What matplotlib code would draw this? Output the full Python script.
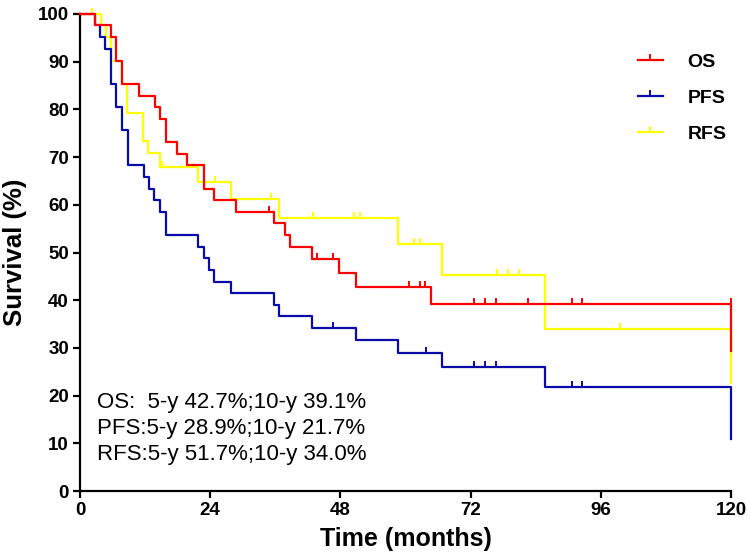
import numpy as np
import matplotlib
matplotlib.use('Agg')
import matplotlib.pyplot as plt
from matplotlib.lines import Line2D

plt.rcParams['font.family'] = ['Liberation Sans', 'DejaVu Sans']

# Kaplan-Meier steps: event time (months) and survival (%) after the drop
os_times = [2.8, 5.8, 6.6, 7.7, 10.8, 13.8, 14.8, 15.8, 17.8, 19.8, 22.8, 24.7, 28.7,
            35.7, 37.7, 38.7, 42.7, 47.7, 50.8, 64.7, 120]
os_surv = [97.6, 95.1, 90.2, 85.4, 82.9, 80.5, 78.0, 73.2, 70.7, 68.3, 63.4, 61.0, 58.5,
           56.1, 53.7, 51.2, 48.6, 45.6, 42.7, 39.1, 29.3]
os_cens = [34.8, 43.7, 46.7, 60.7, 62.7, 63.6, 72.6, 74.6, 76.6, 82.6, 90.6, 92.5, 120]

pfs_times = [2.8, 3.6, 4.6, 5.8, 6.7, 7.8, 8.9, 11.8, 12.7, 13.7, 14.7, 15.8, 21.8, 22.8,
             23.8, 24.7, 27.8, 35.7, 36.7, 42.7, 50.8, 58.6, 66.8, 85.7, 120]
pfs_surv = [97.6, 95.1, 92.7, 85.4, 80.5, 75.6, 68.3, 65.9, 63.4, 61.0, 58.5, 53.7, 51.2, 48.8,
            46.3, 43.9, 41.5, 39.0, 36.6, 34.1, 31.7, 28.9, 26.0, 21.7, 10.9]
pfs_cens = [46.7, 63.7, 72.6, 74.7, 76.7, 90.6, 92.5]

rfs_times = [3.8, 4.7, 5.7, 7.8, 8.7, 11.7, 12.6, 14.7, 21.8, 27.8, 36.7, 58.6, 66.8, 85.7, 120]
rfs_surv = [97.6, 95.1, 90.2, 85.4, 79.3, 73.4, 70.8, 68.0, 64.8, 61.2, 57.2, 51.7, 45.3, 34.0, 22.7]
rfs_cens = [2.2, 15.2, 24.9, 35.2, 42.9, 50.5, 51.7, 61.5, 62.7, 76.9, 78.8, 80.9, 99.5]

labels = ['OS', 'PFS', 'RFS']
colors = ['#FF0000', '#0A0AA8', '#FFFF00']
summary = ['OS:  5-y 42.7%;10-y 39.1%',
           'PFS:5-y 28.9%;10-y 21.7%',
           'RFS:5-y 51.7%;10-y 34.0%']


def km_curve(ax, times, surv, cens, color, z):
    t = np.concatenate([[0], times])
    s = np.concatenate([[100], surv])
    if t[-1] < 120:
        t = np.append(t, 120)
        s = np.append(s, s[-1])
    ax.plot(t, s, drawstyle='steps-post', color=color, lw=1.6, zorder=z, clip_on=False)
    idx = np.searchsorted(t, cens, side='left') - 1
    ax.plot(cens, s[idx], ls='none', marker=2, ms=4.5, mew=1.4, color=color, zorder=z,
            clip_on=False)


fig = plt.figure(figsize=(7.5, 5.6), dpi=100)
ax = fig.add_axes([0.1067, 0.1232, 0.868, 0.8518])

km_curve(ax, rfs_times, rfs_surv, rfs_cens, colors[2], 2)
km_curve(ax, pfs_times, pfs_surv, pfs_cens, colors[1], 3)
km_curve(ax, os_times, os_surv, os_cens, colors[0], 4)

ax.set_xlim(0, 120)
ax.set_ylim(0, 100)
ax.set_xticks([0, 24, 48, 72, 96, 120])
ax.set_yticks(np.arange(0, 101, 10))
for sp in ['top', 'right']:
    ax.spines[sp].set_visible(False)
for sp in ['left', 'bottom']:
    ax.spines[sp].set_linewidth(1.6)
ax.tick_params(width=1.6, length=5, labelsize=13.5, pad=3)
for lab in ax.get_xticklabels() + ax.get_yticklabels():
    lab.set_fontweight('bold')

ax.set_xlabel('Time (months)', fontsize=18, fontweight='bold', labelpad=6)
ax.set_ylabel('Survival (%)', fontsize=18.5, fontweight='bold', labelpad=8)

handles = [Line2D([0], [0], color=c, lw=1.6, marker=2, ms=4.5, mew=1.4) for c in colors]
leg = ax.legend(handles, labels, loc='upper left', bbox_to_anchor=(0.83, 0.955),
                frameon=False, numpoints=1, handlelength=1.3, handletextpad=1.25,
                labelspacing=0.95, prop={'size': 14, 'weight': 'bold'})

ax.text(0.026, 0.055, '\n'.join(summary), transform=ax.transAxes, fontsize=16,
        ha='left', va='bottom', linespacing=1.3)

fig.savefig('out.png', dpi=100)
